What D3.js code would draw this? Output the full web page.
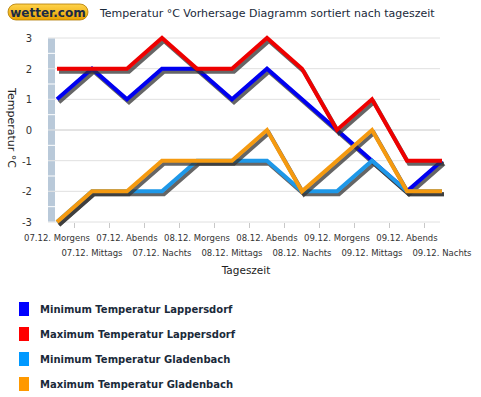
<!DOCTYPE html>
<html>
<head>
<meta charset="utf-8">
<script src="https://cdn.jsdelivr.net/npm/d3@7"></script>
<style>
  body { margin: 0; background: #fff; }
  text { font-family: "DejaVu Sans", Verdana, sans-serif; }
</style>
</head>
<body>
<script>
// categories (x axis)
const categories = [
  "07.12. Morgens", "07.12. Mittags", "07.12. Abends", "07.12. Nachts",
  "08.12. Morgens", "08.12. Mittags", "08.12. Abends", "08.12. Nachts",
  "09.12. Morgens", "09.12. Mittags", "09.12. Abends", "09.12. Nachts"
];

// series values
const minLappersdorf = [1, 2, 1, 2, 2, 1, 2, 1, 0, -1, -2, -1];
const maxLappersdorf = [2, 2, 2, 3, 2, 2, 3, 2, 0, 1, -1, -1];
const minGladenbach = [-3, -2, -2, -2, -1, -1, -1, -2, -2, -1, -2, -2];
const maxGladenbach = [-3, -2, -2, -1, -1, -1, 0, -2, -1, 0, -2, -2];

const seriesNames = [
  "Minimum Temperatur Lappersdorf",
  "Maximum Temperatur Lappersdorf",
  "Minimum Temperatur Gladenbach",
  "Maximum Temperatur Gladenbach"
];
const yTicks = [-3, -2, -1, 0, 1, 2, 3];

const width = 481;
const height = 397;
const colors = ["#0000f0", "#ee0000", "#1e98e8", "#f59a10"];
const legendColors = ["#0000ff", "#ff0000", "#0099ff", "#ff9900"];

const svg = d3.select("body").append("svg")
    .attr("width", width)
    .attr("height", height);

// logo
const grad = svg.append("defs").append("linearGradient")
    .attr("id", "logoGrad").attr("x1", 0).attr("y1", 0).attr("x2", 0).attr("y2", 1);
grad.append("stop").attr("offset", "0%").attr("stop-color", "#ffd34a");
grad.append("stop").attr("offset", "100%").attr("stop-color", "#e8a200");
svg.append("rect")
    .attr("x", 8).attr("y", 4).attr("width", 80).attr("height", 16).attr("rx", 8)
    .attr("fill", "url(#logoGrad)").attr("stroke", "#b07800").attr("stroke-width", 0.8);
svg.append("text")
    .attr("x", 48).attr("y", 16.5)
    .attr("text-anchor", "middle")
    .attr("font-size", "12px").attr("font-weight", "bold")
    .attr("fill", "#1a2a44")
    .text("wetter.com");

// title
svg.append("text")
    .attr("x", 100).attr("y", 17)
    .attr("font-size", "11px")
    .attr("fill", "#1a2a3a")
    .text("Temperatur °C Vorhersage Diagramm sortiert nach tageszeit");

const xScale = d3.scalePoint()
    .domain(categories)
    .range([57, 442]);
const yScale = d3.scaleLinear()
    .domain([-3, 3])
    .range([222, 38]);

// gridlines
svg.append("g").selectAll("line")
    .data(yTicks)
    .join("line")
    .attr("x1", 48).attr("x2", 440)
    .attr("y1", d => yScale(d)).attr("y2", d => yScale(d))
    .attr("stroke", d => d === 0 ? "#c8c8c8" : "#e0e0e0")
    .attr("stroke-width", 1);

// gray bar at left of the plot
const halfSteps = d3.range(-3, 3, 0.5);
svg.append("g").selectAll("rect")
    .data(halfSteps)
    .join("rect")
    .attr("x", 48).attr("width", 7)
    .attr("y", d => yScale(d + 0.5) + 0.5)
    .attr("height", d => yScale(d) - yScale(d + 0.5) - 1)
    .attr("fill", "#b9c9d9");

// y axis labels
svg.append("g").selectAll("text")
    .data(yTicks)
    .join("text")
    .attr("x", 32)
    .attr("y", d => yScale(d) + 4)
    .attr("text-anchor", "end")
    .attr("font-size", "10px")
    .attr("fill", "#333")
    .text(d => d);

svg.append("text")
    .attr("transform", "translate(8,128) rotate(90)")
    .attr("text-anchor", "middle")
    .attr("font-size", "11px")
    .attr("fill", "#222")
    .text("Temperatur °C");

// x axis
const step = xScale.step();
svg.append("g").selectAll("line")
    .data(categories.slice(0, -1))
    .join("line")
    .attr("x1", d => xScale(d) + step / 2).attr("x2", d => xScale(d) + step / 2)
    .attr("y1", 223).attr("y2", 228)
    .attr("stroke", "#c8c8c8");

svg.append("g").selectAll("text")
    .data(categories)
    .join("text")
    .attr("x", d => xScale(d))
    .attr("y", (d, i) => i % 2 === 0 ? 241 : 256)
    .attr("text-anchor", "middle")
    .attr("font-size", "8.5px")
    .attr("fill", "#333")
    .text(d => d);

svg.append("text")
    .attr("x", 246).attr("y", 274)
    .attr("text-anchor", "middle")
    .attr("font-size", "10.5px")
    .attr("fill", "#222")
    .text("Tageszeit");

// lines
const allSeries = [minLappersdorf, maxLappersdorf, minGladenbach, maxGladenbach];
const line = d3.line()
    .x((d, i) => xScale(categories[i]))
    .y(d => yScale(d));

allSeries.forEach((values, k) => {
    svg.append("path")
        .datum(values)
        .attr("transform", "translate(2,3)")
        .attr("fill", "none")
        .attr("stroke", "#333")
        .attr("stroke-opacity", 0.75)
        .attr("stroke-width", 4)
        .attr("d", line);
    svg.append("path")
        .datum(values)
        .attr("fill", "none")
        .attr("stroke", colors[k])
        .attr("stroke-width", 4)
        .attr("d", line);
});

// legend
const legend = svg.append("g").selectAll("g")
    .data(seriesNames)
    .join("g")
    .attr("transform", (d, i) => "translate(19," + (302 + i * 25) + ")");
legend.append("rect")
    .attr("width", 10).attr("height", 14)
    .attr("fill", (d, i) => legendColors[i]);
legend.append("text")
    .attr("x", 21).attr("y", 11)
    .attr("font-size", "10px")
    .attr("font-weight", "bold")
    .attr("fill", "#1a2a3a")
    .text(d => d);
</script>
</body>
</html>
